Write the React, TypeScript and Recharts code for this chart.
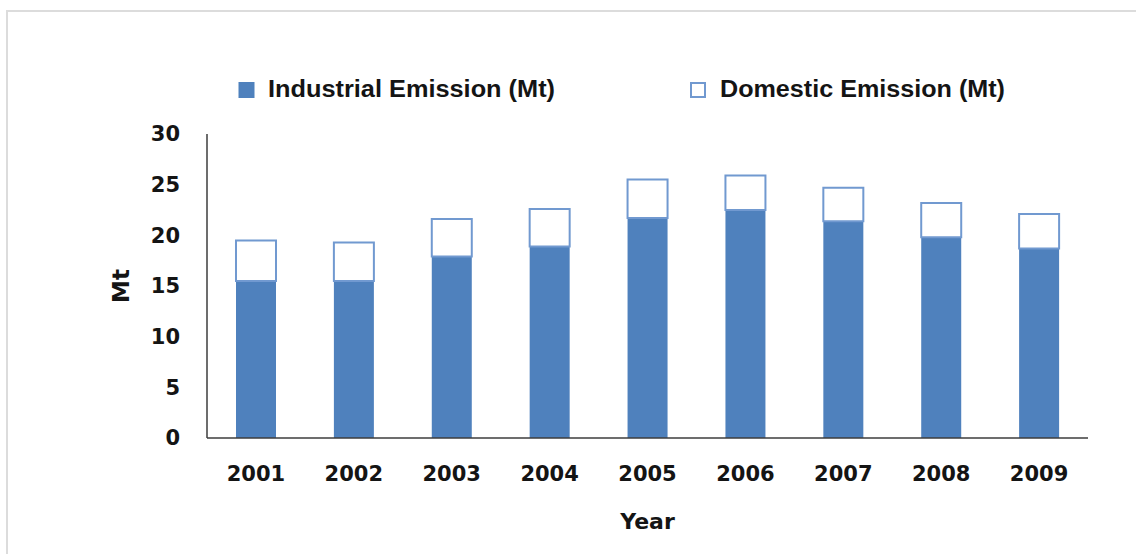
import React from 'react';
import { BarChart, Bar, XAxis, YAxis, Legend } from 'recharts';

// Emission values in megatonnes per year
const years = ['2001', '2002', '2003', '2004', '2005', '2006', '2007', '2008', '2009'];
const industrialEmission = [15.5, 15.5, 17.9, 18.9, 21.7, 22.5, 21.4, 19.8, 18.7];
const domesticEmission = [4.0, 3.8, 3.7, 3.7, 3.8, 3.4, 3.3, 3.4, 3.4];
const yTicks = [0, 5, 10, 15, 20, 25, 30];
const seriesNames = ['Industrial Emission (Mt)', 'Domestic Emission (Mt)'];

const data = years.map((year, i) => ({
  year,
  industrial: industrialEmission[i],
  domestic: domesticEmission[i],
}));

const BLUE = '#4f81bd';
const LIGHT_BLUE = '#7199d0';
const AXIS = '#3c3c3c';
const TEXT = '#141414';
const TICK_FONT = '"DejaVu Sans", Verdana, sans-serif';

// Legend layout: marker x and text width per series
const legendLayout: Record<string, { x: number; textWidth: number }> = {
  industrial: { x: 239, textWidth: 287 },
  domestic: { x: 691, textWidth: 285 },
};

const renderLegend = (props: any) => {
  const payload = props.payload || [];
  return (
    <svg width={1136} height={40} style={{ display: 'block' }}>
      {payload.map((entry: any) => {
        const key = String(entry.dataKey);
        const cfg = legendLayout[key];
        if (!cfg) return null;
        const filled = key === 'industrial';
        return (
          <g key={key}>
            <rect
              x={cfg.x}
              y={filled ? 11.5 : 12}
              width={filled ? 15 : 14}
              height={filled ? 15 : 14}
              fill={filled ? BLUE : '#ffffff'}
              stroke={filled ? BLUE : LIGHT_BLUE}
              strokeWidth={filled ? 1 : 2}
            />
            <text
              x={cfg.x + 29}
              y={26}
              textLength={cfg.textWidth}
              lengthAdjust="spacingAndGlyphs"
              fontFamily='"Liberation Sans", Arial, sans-serif'
              fontWeight="bold"
              fontSize={23}
              fill={TEXT}
            >
              {entry.value}
            </text>
          </g>
        );
      })}
    </svg>
  );
};

const renderYLabel = (props: any) => {
  const vb = props.viewBox || { x: 0, y: 0, width: 0, height: 0 };
  const cx = vb.x + 121;
  const cy = vb.y + vb.height / 2;
  return (
    <text
      x={cx}
      y={cy}
      transform={`rotate(-90, ${cx}, ${cy})`}
      textAnchor="middle"
      dominantBaseline="central"
      fontFamily={TICK_FONT}
      fontWeight="bold"
      fontSize={23}
      fill={TEXT}
    >
      Mt
    </text>
  );
};

const renderXLabel = (props: any) => {
  const vb = props.viewBox || { x: 0, y: 0, width: 0, height: 0 };
  return (
    <text
      x={vb.x + vb.width / 2}
      y={vb.y + 91}
      textAnchor="middle"
      fontFamily={TICK_FONT}
      fontWeight="bold"
      fontSize={22}
      fill={TEXT}
    >
      Year
    </text>
  );
};

export default function App() {
  return (
    <div style={{ position: 'absolute', left: 0, top: 0, width: 1136, height: 554, background: '#ffffff', overflow: 'hidden' }}>
      <div
        style={{
          position: 'absolute',
          left: 6,
          top: 10,
          width: 1200,
          height: 600,
          borderLeft: '2px solid #dcdcdc',
          borderTop: '2px solid #dcdcdc',
        }}
      />
      <div style={{ position: 'absolute', left: 0, top: 0 }}>
        <BarChart
          width={1136}
          height={554}
          data={data}
          margin={{ top: 134, right: 48, left: 0, bottom: 0 }}
          barSize={40}
        >
          <XAxis
            dataKey="year"
            height={116}
            tickLine={false}
            tickSize={0}
            tickMargin={28}
            axisLine={{ stroke: AXIS, strokeWidth: 1.5 }}
            tick={{ fill: TEXT, fontFamily: TICK_FONT, fontWeight: 'bold', fontSize: 21 }}
            label={{ content: renderXLabel }}
          />
          <YAxis
            width={207}
            domain={[0, 30]}
            ticks={yTicks}
            interval={0}
            tickLine={false}
            tickSize={0}
            tickMargin={27}
            axisLine={{ stroke: AXIS, strokeWidth: 1.5 }}
            tick={{ fill: TEXT, fontFamily: TICK_FONT, fontWeight: 'bold', fontSize: 21 }}
            label={{ content: renderYLabel }}
          />
          <Legend
            layout="horizontal"
            verticalAlign="middle"
            align="center"
            wrapperStyle={{ top: 71, left: 0, width: 1136, height: 40 }}
            content={renderLegend}
          />
          <Bar
            dataKey="industrial"
            name={seriesNames[0]}
            stackId="total"
            fill={BLUE}
            isAnimationActive={false}
          />
          <Bar
            dataKey="domestic"
            name={seriesNames[1]}
            stackId="total"
            fill="#ffffff"
            stroke={LIGHT_BLUE}
            strokeWidth={2}
            isAnimationActive={false}
          />
        </BarChart>
      </div>
    </div>
  );
}
